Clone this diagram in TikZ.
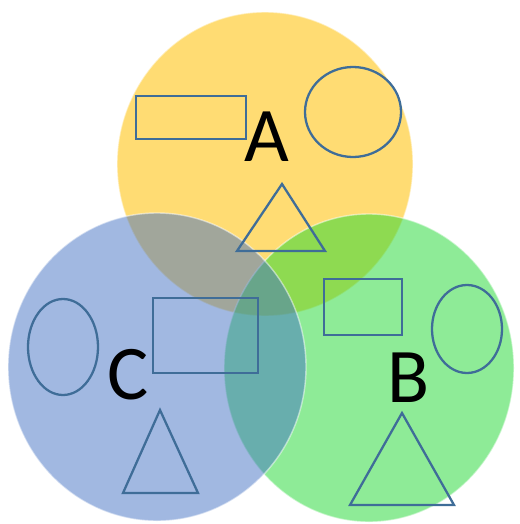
\documentclass[tikz,border=0pt]{standalone}
\usepackage{fontspec}
\setmainfont{Carlito}
\definecolor{setA}{HTML}{FFC000}
\definecolor{setB}{HTML}{1ED830}
\definecolor{setC}{HTML}{4472C4}
\definecolor{outline}{HTML}{3F6D98}
\begin{document}
\begin{tikzpicture}[x=0.02cm,y=-0.02cm,
    disc/.style={fill opacity=0.5,draw=white,draw opacity=0.5,line width=0.8pt},
    figure/.style={draw=outline,line width=1.3pt},
    letter/.style={inner sep=0pt,font=\fontsize{44}{44}\selectfont}]

  \useasboundingbox (0,0) rectangle (520,524);

  % the three sets
  \path[disc,fill=setA,fill opacity=0.55] (265,164) ellipse [x radius=148,y radius=152];
  \path[disc,fill=setB] (369,368) ellipse [x radius=145,y radius=154];
  \path[disc,fill=setC] (157,367) ellipse [x radius=149,y radius=154];

  % members of A
  \begin{scope}[every path/.style={figure}]
    \draw (136,96) rectangle (246,139);
    \draw (353,112) ellipse [x radius=48,y radius=45];
    \draw (282,184) -- (237,251) -- (325,251) -- cycle;
  \end{scope}

  % members of B
  \begin{scope}[every path/.style={figure}]
    \draw (324,279) rectangle (402,335);
    \draw (467,329) ellipse [x radius=35,y radius=44];
    \draw (402,413) -- (350,505) -- (454,505) -- cycle;
  \end{scope}

  % members of C
  \begin{scope}[every path/.style={figure}]
    \draw (153,298) rectangle (258,373);
    \draw (63,347) ellipse [x radius=35,y radius=48];
    \draw (160,410) -- (123,493) -- (198,493) -- cycle;
  \end{scope}

  \begin{scope}[every node/.style={letter}]
    \node (labA) at (267,137) {A};
    \node (labB) at (409,378) {B};
    \node (labC) at (128,375) {C};
  \end{scope}

\end{tikzpicture}
\end{document}
